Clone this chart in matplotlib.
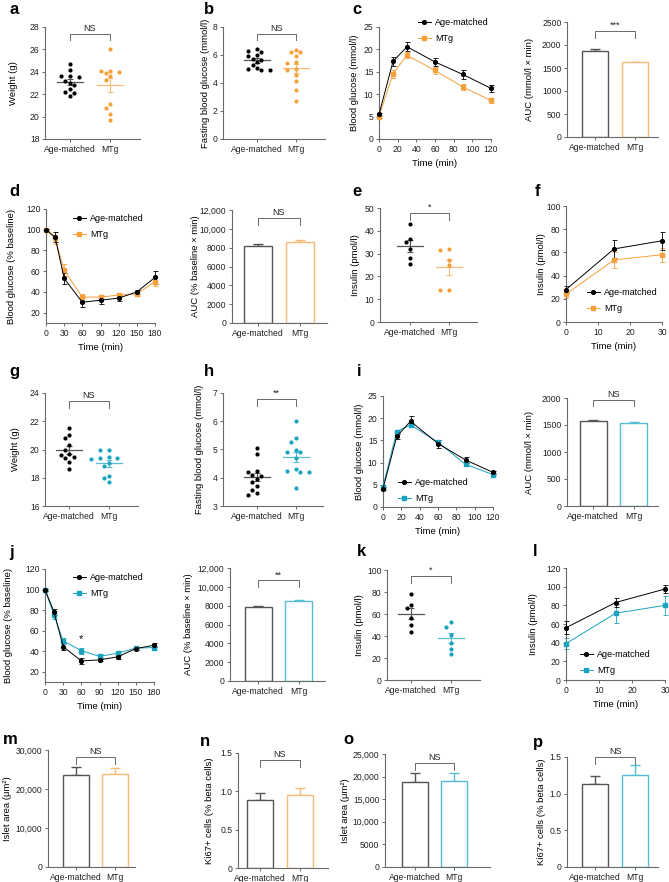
import numpy as np
import matplotlib
matplotlib.use("Agg")
from matplotlib import pyplot as plt
from matplotlib.ticker import FuncFormatter

plt.rcParams['font.family'] = ['Liberation Sans', 'DejaVu Sans']

W, H = 669, 882
groups = ['Age-matched', 'MTg']

BLACK = 'black'
GRAY = '#555555'
SPINE = '#6a6a6a'
ORANGE = '#F5A03A'
ORANGE_L = '#F8BA78'
TEAL = '#1AA3BF'
TEAL_L = '#5ABCD3'

# ---- data ----
# a, g: weight (g)
a_am = [24.7, 24.2, 23.6, 23.6, 23.5, 23.2, 23.0, 22.8, 22.5, 22.2, 22.1, 21.8]
a_mtg = [26.0, 24.1, 24.1, 24.0, 23.9, 23.6, 23.3, 21.1, 20.8, 20.2, 19.7]
# b, h: fasting blood glucose
b_am = [6.4, 6.3, 6.2, 6.0, 5.9, 5.75, 5.65, 5.5, 5.3, 5.1, 5.0, 4.95, 4.9]
b_mtg = [6.35, 6.2, 6.2, 5.95, 5.5, 5.4, 5.0, 4.95, 4.6, 4.15, 3.5, 2.7]
# c: GTT
gtt_t = [0, 15, 30, 60, 90, 120]
c_am = [5.5, 17.3, 20.6, 17.2, 14.4, 11.3]
c_am_err = [0.3, 0.9, 1.0, 0.9, 1.1, 0.7]
c_mtg = [5.0, 14.6, 18.7, 15.3, 11.6, 8.6]
c_mtg_err = [0.3, 0.9, 0.7, 0.7, 0.7, 0.6]
c_auc = [1880, 1620]
c_auc_err = [40, 15]
# d: ITT
itt_t = [0, 15, 30, 60, 90, 120, 150, 180]
d_am = [100, 93, 53, 30, 32, 34, 40, 54]
d_am_err = [1, 5, 5, 5, 4, 3, 2, 6]
d_mtg = [100, 92, 61, 35, 35, 37, 38, 50]
d_mtg_err = [1, 6, 6, 3, 2, 2, 2, 4]
d_auc = [8200, 8650]
d_auc_err = [200, 200]
# e: insulin
e_am = [42.8, 36.5, 35.1, 32.2, 28.2, 25.3]
e_mtg = [32.0, 31.7, 27.3, 25.1, 14.2, 13.9]
# f: insulin time course
ins_t = [0, 15, 30]
f_am = [28, 63, 70]
f_am_err = [3, 8, 8]
f_mtg = [24, 53.5, 58]
f_mtg_err = [3, 7, 6]
# g, h
g_am = [21.5, 21.0, 20.8, 20.3, 20.0, 19.7, 19.6, 19.5, 19.4, 19.1, 18.6]
g_mtg = [20.0, 19.95, 19.45, 19.4, 19.4, 19.35, 19.05, 18.85, 18.15, 18.0, 17.7]
h_am = [5.05, 4.85, 4.25, 4.2, 4.1, 4.05, 3.95, 3.85, 3.7, 3.55, 3.45, 3.4]
h_mtg = [6.0, 5.4, 5.27, 4.97, 4.92, 4.9, 4.7, 4.3, 4.25, 4.22, 4.2, 3.65]
# i
i_am = [4.1, 15.9, 19.3, 14.3, 10.6, 7.8]
i_am_err = [0.3, 0.6, 1.2, 0.9, 0.7, 0.4]
i_mtg = [4.6, 17.0, 18.5, 14.6, 9.6, 7.3]
i_mtg_err = [0.3, 0.4, 0.5, 0.6, 0.4, 0.3]
i_auc = [1565, 1540]
i_auc_err = [35, 15]
# j
j_am = [100, 78, 44.5, 30.5, 31.5, 34.5, 42.5, 45.8]
j_am_err = [1, 3, 3, 2.5, 1.5, 2, 1.5, 2]
j_mtg = [100, 75, 50, 40.5, 35, 38, 43, 43.5]
j_mtg_err = [1, 4, 3, 3, 2, 2.5, 1.5, 2]
j_auc = [7900, 8450]
j_auc_err = [60, 150]
# k, l
k_am = [78.2, 67.9, 65.2, 56.1, 50.0, 43.9]
k_mtg = [52.4, 48.5, 40.9, 33.9, 28.2, 23.3]
l_am = [56, 83, 97.5]
l_am_err = [7, 5, 4]
l_mtg = [39, 71.5, 80]
l_mtg_err = [6, 10, 10]
# m-p: islet area and Ki67
m_vals = [23700, 23900]
m_err = [2000, 1500]
n_vals = [0.89, 0.95]
n_err = [0.09, 0.09]
o_vals = [18700, 19000]
o_err = [2000, 1700]
p_vals = [1.13, 1.26]
p_err = [0.11, 0.13]

fig = plt.figure(figsize=(W / 100, H / 100), dpi=100)


def add_ax(box, xlim, ylim, yticks, xticks=None):
    x0, y0, x1, y1 = box
    ax = fig.add_axes([x0 / W, 1 - y1 / H, (x1 - x0) / W, (y1 - y0) / H])
    ax.set_xlim(*xlim)
    ax.set_ylim(*ylim)
    ax.set_yticks(yticks)
    if xticks is not None:
        ax.set_xticks(xticks)
    for s in ['top', 'right']:
        ax.spines[s].set_visible(False)
    for s in ['left', 'bottom']:
        ax.spines[s].set_color(SPINE)
        ax.spines[s].set_linewidth(0.8)
    ax.tick_params(colors=SPINE, labelcolor='#222222', labelsize=6.2,
                   length=2.5, width=0.7, pad=1.5)
    return ax


def set_ylab(ax, box, text, xpx):
    # put the y label centre at pixel column xpx
    x0, y0, x1, y1 = box
    ax.set_ylabel(text, fontsize=6.8)
    ax.yaxis.label.set_va('center')
    ax.yaxis.set_label_coords((xpx - x0) / (x1 - x0), 0.5)


def big_fmt(v, pos):
    v = int(round(v))
    return f"{v:,}" if v >= 10000 else str(v)


def dec_fmt(v, pos):
    return '0' if v == 0 else f"{v:.1f}"


def bracket(ax, yf, text, leg=0.06):
    tr = ax.get_xaxis_transform()
    ax.plot([0, 0, 1, 1], [yf - leg, yf, yf, yf - leg], transform=tr,
            color=SPINE, lw=0.7, clip_on=False)
    ax.text(0.5, yf + 0.01, text, transform=tr, ha='center', va='bottom',
            fontsize=6.5, color='#222222')


def swarm(ax, pos, vals, color, r=4.6):
    vals = np.asarray(vals, dtype=float)
    tr = ax.transData
    xc = tr.transform((pos, 0))[0]
    placed = []
    xs = np.zeros(len(vals))
    for i in np.argsort(-vals):
        yd = tr.transform((pos, vals[i]))[1]
        for k in [0, -1, 1, -2, 2, -3, 3, -4, 4]:
            xd = xc + k * r * 0.95
            if all((xd - px) ** 2 + (yd - py) ** 2 >= r ** 2 for px, py in placed):
                break
        placed.append((xd, yd))
        xs[i] = tr.inverted().transform((xd, yd))[0]
    ax.scatter(xs, vals, s=9, color=color, linewidths=0, zorder=3)
    m = vals.mean()
    sem = vals.std(ddof=1) / np.sqrt(len(vals))
    lc = GRAY if color == BLACK else (ORANGE_L if color == ORANGE else TEAL_L)
    ax.plot([pos - 0.33, pos + 0.33], [m, m], color=lc, lw=0.9, zorder=2)
    ax.errorbar([pos], [m], yerr=[sem], color=lc, lw=0.8, capsize=2.5,
                capthick=0.8, zorder=2)


def dot_panel(box, xlim, ylim, yticks, am, mtg, col, ylabel, ylab_x, sig, yf):
    ax = add_ax(box, xlim, ylim, yticks, [0, 1])
    ax.set_xticklabels(groups)
    swarm(ax, 0, am, BLACK)
    swarm(ax, 1, mtg, col)
    set_ylab(ax, box, ylabel, ylab_x)
    bracket(ax, yf, sig)
    return ax


def bar_panel(box, xlim, ylim, yticks, vals, errs, col, ylabel, ylab_x, sig, yf,
              fmt=None):
    ax = add_ax(box, xlim, ylim, yticks, [0, 1])
    ax.set_xticklabels(groups)
    edges = [GRAY, col]
    for i in range(2):
        ax.bar(i, vals[i], width=0.66, facecolor='white', edgecolor=edges[i],
               linewidth=1.0, zorder=2)
        ax.errorbar([i], [vals[i]], yerr=[[0], [errs[i]]], color=edges[i],
                    lw=1.0, capsize=3.5, capthick=1.0, zorder=1)
    if fmt is not None:
        ax.yaxis.set_major_formatter(FuncFormatter(fmt))
    set_ylab(ax, box, ylabel, ylab_x)
    bracket(ax, yf, sig)
    return ax


def line_panel(box, xlim, ylim, yticks, xticks, t, am, am_err, mtg, mtg_err,
               col, ylabel, ylab_x, leg_xy):
    ax = add_ax(box, xlim, ylim, yticks, xticks)
    ax.errorbar(t, am, yerr=am_err, fmt='none', ecolor=BLACK, elinewidth=0.6,
                capsize=1.8, capthick=0.6, zorder=3, clip_on=False)
    ax.errorbar(t, mtg, yerr=mtg_err, fmt='none', ecolor=col, elinewidth=0.6,
                capsize=1.8, capthick=0.6, zorder=2, clip_on=False)
    h1, = ax.plot(t, am, color=BLACK, marker='o', ms=2.7, lw=0.7, zorder=4,
                  clip_on=False, label='Age-matched')
    h2, = ax.plot(t, mtg, color=col, marker='s', ms=2.5, lw=0.7, zorder=3,
                  clip_on=False, label='MTg')
    set_ylab(ax, box, ylabel, ylab_x)
    ax.set_xlabel('Time (min)', fontsize=6.8, labelpad=4)
    ax.legend(handles=[h1, h2], loc='upper left',
              bbox_to_anchor=(leg_xy[0] / W, 1 - leg_xy[1] / H),
              bbox_transform=fig.transFigure, frameon=False, fontsize=6.5,
              borderpad=0, borderaxespad=0, handlelength=1.4,
              handletextpad=0.5, labelspacing=0.75)
    return ax


# ---- row 1 ----
dot_panel((45, 27, 140, 139), (-0.62, 1.75), (18, 28), np.arange(18, 29, 2),
          a_am, a_mtg, ORANGE, 'Weight (g)', 13, 'NS', 0.94)
dot_panel((223, 27, 325, 139), (-0.87, 1.75), (0, 8), np.arange(0, 9, 2),
          b_am, b_mtg, ORANGE, 'Fasting blood glucose (mmol/l)', 206, 'NS', 0.94)
line_panel((379, 27, 491, 139), (0, 120), (0, 25), np.arange(0, 26, 5),
           np.arange(0, 121, 20), gtt_t, c_am, c_am_err, c_mtg, c_mtg_err,
           ORANGE, 'Blood glucose (mmol/l)', 354, (418, 18))
bar_panel((567, 22, 658, 137), (-0.7, 1.57), (0, 2500), np.arange(0, 2501, 500),
          c_auc, c_auc_err, ORANGE_L, 'AUC (mmol/l × min)', 529, '***', 0.92)

# ---- row 2 ----
line_panel((46, 209, 155, 323), (0, 180), (10, 120), np.arange(20, 121, 20),
           np.arange(0, 181, 30), itt_t, d_am, d_am_err, d_mtg, d_mtg_err,
           ORANGE, 'Blood glucose (% baseline)', 12, (73, 214))
bar_panel((232, 210, 327, 323), (-0.62, 1.65), (0, 12000),
          np.arange(0, 12001, 2000), d_auc, d_auc_err, ORANGE_L,
          'AUC (% baseline × min)', 195, 'NS', 0.93, big_fmt)
dot_panel((380, 208, 477, 322), (-0.77, 1.72), (0, 50), np.arange(0, 51, 10),
          e_am, e_mtg, ORANGE, 'Insulin (pmol/l)', 356, '*', 0.955)
line_panel((566, 206, 662, 322), (0, 30), (0, 100), np.arange(0, 101, 20),
           [0, 10, 20, 30], ins_t, f_am, f_am_err, f_mtg, f_mtg_err,
           ORANGE, 'Insulin (pmol/l)', 541, (587, 288))

# ---- row 3 ----
dot_panel((45, 393, 138, 506), (-0.62, 1.75), (16, 24), np.arange(16, 25, 2),
          g_am, g_mtg, TEAL, 'Weight (g)', 15, 'NS', 0.93)
dot_panel((223, 393, 323, 506), (-0.87, 1.7), (3, 7), np.arange(3, 8, 1),
          h_am, h_mtg, TEAL, 'Fasting blood glucose (mmol/l)', 200, '**', 0.945)
line_panel((383, 396, 493, 507), (0, 120), (0, 25), np.arange(0, 26, 5),
           np.arange(0, 121, 20), gtt_t, i_am, i_am_err, i_mtg, i_mtg_err,
           TEAL, 'Blood glucose (mmol/l)', 359, (398, 478))
bar_panel((567, 398, 658, 506), (-0.65, 1.6), (0, 2000), np.arange(0, 2001, 500),
          i_auc, i_auc_err, TEAL_L, 'AUC (mmol/l × min)', 530, 'NS', 0.985)

# ---- row 4 ----
axj = line_panel((45, 569, 154, 682), (0, 180), (10, 120), np.arange(20, 121, 20),
                 np.arange(0, 181, 30), itt_t, j_am, j_am_err, j_mtg, j_mtg_err,
                 TEAL, 'Blood glucose (% baseline)', 9, (73, 573))
axj.text(itt_t[3], j_mtg[3] + j_mtg_err[3] + 3, '*', ha='center', va='bottom',
         fontsize=8)
bar_panel((230, 568, 325, 681), (-0.7, 1.65), (0, 12000),
          np.arange(0, 12001, 2000), j_auc, j_auc_err, TEAL_L,
          'AUC (% baseline × min)', 189, '**', 0.89, big_fmt)
dot_panel((387, 570, 480, 680), (-0.62, 1.75), (0, 100), np.arange(0, 101, 20),
          k_am, k_mtg, TEAL, 'Insulin (pmol/l)', 359, '*', 0.945)
line_panel((566, 568, 665, 680), (0, 30), (0, 120), np.arange(0, 121, 20),
           [0, 10, 20, 30], ins_t, l_am, l_am_err, l_mtg, l_mtg_err,
           TEAL, 'Insulin (pmol/l)', 534, (580, 650))

# ---- row 5 ----
bar_panel((48, 750, 135, 867), (-0.72, 1.5), (0, 30000),
          np.arange(0, 30001, 10000), m_vals, m_err, ORANGE_L,
          'Islet area (μm²)', 7, 'NS', 0.94, big_fmt)
bar_panel((238, 753, 328, 868), (-0.55, 1.7), (0, 1.5), [0, 0.5, 1.0, 1.5],
          n_vals, n_err, ORANGE_L, 'Ki67+ cells (% beta cells)', 210, 'NS', 0.94,
          dec_fmt)
bar_panel((385, 754, 490, 867), (-0.75, 1.9), (0, 25000),
          np.arange(0, 25001, 5000), o_vals, o_err, TEAL_L,
          'Islet area (μm²)', 345, 'NS', 0.92, big_fmt)
bar_panel((567, 757, 658, 867), (-0.7, 1.57), (0, 1.5), [0, 0.5, 1.0, 1.5],
          p_vals, p_err, TEAL_L, 'Ki67+ cells (% beta cells)', 541, 'NS', 1.0,
          dec_fmt)

# panel letters
letters = [('a', 9, 9), ('b', 204, 9), ('c', 352, 9), ('d', 9, 192),
           ('e', 352, 192), ('f', 535, 192), ('g', 9, 371), ('h', 204, 371),
           ('i', 357, 371), ('j', 9, 552), ('k', 357, 552), ('l', 533, 552),
           ('m', 3, 740), ('n', 200, 742), ('o', 343, 740), ('p', 533, 742)]
for s, x, y in letters:
    fig.text(x / W, 1 - y / H, s, fontsize=12, fontweight='bold',
             ha='left', va='center')

fig.savefig('out.png', dpi=100)
